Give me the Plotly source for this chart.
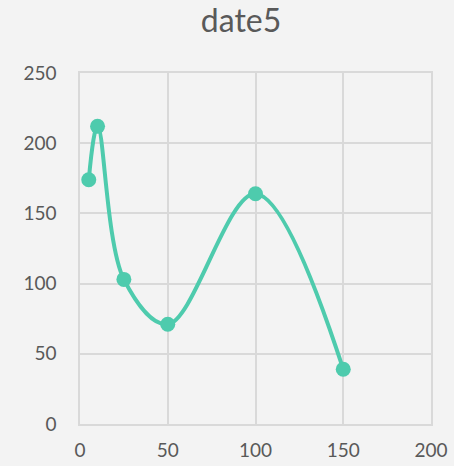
import plotly.graph_objects as go

x_vals = [5, 10, 25, 50, 100, 150]
y_vals = [174, 212, 103, 71, 164, 39]
x_ticks = [0, 50, 100, 150, 200]
y_ticks = [0, 50, 100, 150, 200, 250]
title_text = "date5"

color = "#4ECBAD"
fig = go.Figure()
fig.add_trace(go.Scatter(
    x=x_vals, y=y_vals, mode="lines+markers",
    line=dict(color=color, width=4, shape="spline", smoothing=1),
    marker=dict(color=color, size=15),
    showlegend=False, cliponaxis=False,
))
fig.update_layout(
    width=454, height=466,
    margin=dict(l=80, r=23, t=73, b=42, autoexpand=False),
    paper_bgcolor="#f3f3f3", plot_bgcolor="#f3f3f3",
    font=dict(family="Lato, sans-serif", color="#595959", size=19),
    title=dict(text=title_text, x=241/454, xanchor="center", y=0.955, yanchor="middle",
               font=dict(size=32, color="#595959")),
    xaxis=dict(range=[0, 200], tickvals=x_ticks, showgrid=True, gridcolor="#d9d9d9", gridwidth=1.5,
               zeroline=False, showline=True, linecolor="#d9d9d9", linewidth=1.5, mirror=True,
               ticks="outside", ticklen=8, tickcolor="rgba(0,0,0,0)", fixedrange=True, automargin=False),
    yaxis=dict(range=[0, 250], tickvals=y_ticks, showgrid=True, gridcolor="#d9d9d9", gridwidth=1.5,
               zeroline=False, showline=True, linecolor="#d9d9d9", linewidth=1.5, mirror=True,
               ticks="outside", ticklen=18, tickcolor="rgba(0,0,0,0)", fixedrange=True, automargin=False),
)
fig.write_html("out.html", config={"displayModeBar": False},
               post_script="document.body.style.margin='0';document.body.style.overflow='hidden';document.body.style.background='#f3f3f3';")
